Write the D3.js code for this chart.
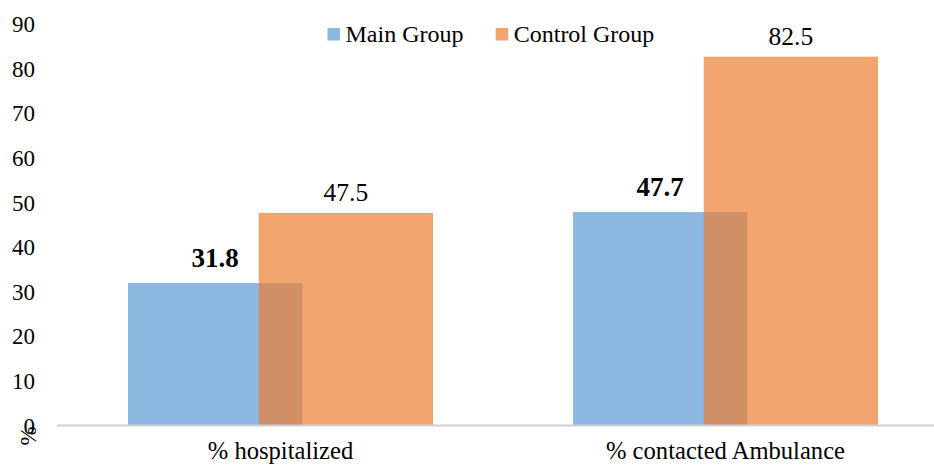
<!DOCTYPE html>
<html>
<head>
<meta charset="utf-8">
<script src="https://cdn.jsdelivr.net/npm/d3@7"></script>
<style>
  html, body { margin: 0; padding: 0; background: #fff; }
  svg { display: block; }
</style>
</head>
<body>
<svg id="chart" width="934" height="465"></svg>
<script>
const categories = ["% hospitalized", "% contacted Ambulance"];
const seriesNames = ["Main Group", "Control Group"];
const mainGroup = [31.8, 47.7];
const controlGroup = [47.5, 82.5];
const yTicks = [0, 10, 20, 30, 40, 50, 60, 70, 80, 90];
const colors = ["#5B9BD5", "#ED7D31"];
const FONT = "'Liberation Serif', 'Times New Roman', Times, 'DejaVu Serif', serif";

const svg = d3.select("#chart").style("font-family", FONT);
const W = 934, H = 465;

const y = d3.scaleLinear().domain([0, 90]).range([425, 23.2]);
const x = d3.scaleBand().domain(categories).range([58, 948]).paddingInner(0).paddingOuter(0);

const groupFrac = 305 / 445;
const overlap = 0.25;
const groupW = x.bandwidth() * groupFrac;
const barW = groupW / (2 - overlap);
const step = barW * (1 - overlap);

function txt(sel) {
  return sel.attr("font-family", FONT).attr("fill", "#000");
}

// Y tick labels
txt(svg.append("g").selectAll("text").data(yTicks).join("text"))
  .attr("x", 35)
  .attr("y", d => y(d))
  .attr("dy", "0.38em")
  .attr("text-anchor", "end")
  .attr("font-size", 23)
  .text(d => d);

// Y axis title "%"
txt(svg.append("text"))
  .attr("transform", "translate(36,436) rotate(-90)")
  .attr("text-anchor", "middle")
  .attr("font-size", 23)
  .text("%");

// Bars
const series = [mainGroup, controlGroup];
series.forEach((vals, si) => {
  svg.append("g").selectAll("rect").data(categories).join("rect")
    .attr("x", c => x(c) + (x.bandwidth() - groupW) / 2 + si * step)
    .attr("y", (c, i) => y(vals[i]))
    .attr("width", barW)
    .attr("height", (c, i) => y(0) - y(vals[i]))
    .attr("fill", colors[si])
    .attr("fill-opacity", 0.7);
});

// Baseline axis
svg.append("line")
  .attr("x1", 57).attr("x2", W)
  .attr("y1", y(0) + 0.5).attr("y2", y(0) + 0.5)
  .attr("stroke", "#d0d0d0").attr("stroke-width", 2);

// Data labels
series.forEach((vals, si) => {
  txt(svg.append("g").selectAll("text").data(categories).join("text"))
    .attr("x", c => x(c) + (x.bandwidth() - groupW) / 2 + si * step + barW / 2)
    .attr("y", (c, i) => y(vals[i]) - (si === 0 ? 16 : 12))
    .attr("text-anchor", "middle")
    .attr("font-size", si === 0 ? 27 : 25.5)
    .attr("font-weight", si === 0 ? "bold" : "normal")
    .text((c, i) => vals[i].toFixed(1));
});

// Category labels
txt(svg.append("g").selectAll("text").data(categories).join("text"))
  .attr("x", c => x(c) + x.bandwidth() / 2)
  .attr("y", 459)
  .attr("text-anchor", "middle")
  .attr("font-size", 24.6)
  .text(c => c);

// Legend
const legendX = [327.5, 495.7];
const lg = svg.append("g").selectAll("g").data(seriesNames).join("g")
  .attr("transform", (d, i) => `translate(${legendX[i]},0)`);
lg.append("rect")
  .attr("x", 0).attr("y", 28).attr("width", 12.5).attr("height", 12.5)
  .attr("fill", (d, i) => colors[i]).attr("fill-opacity", 0.7);
txt(lg.append("text"))
  .attr("x", 18).attr("y", 41.7)
  .attr("font-size", 24)
  .text(d => d);
</script>
</body>
</html>
